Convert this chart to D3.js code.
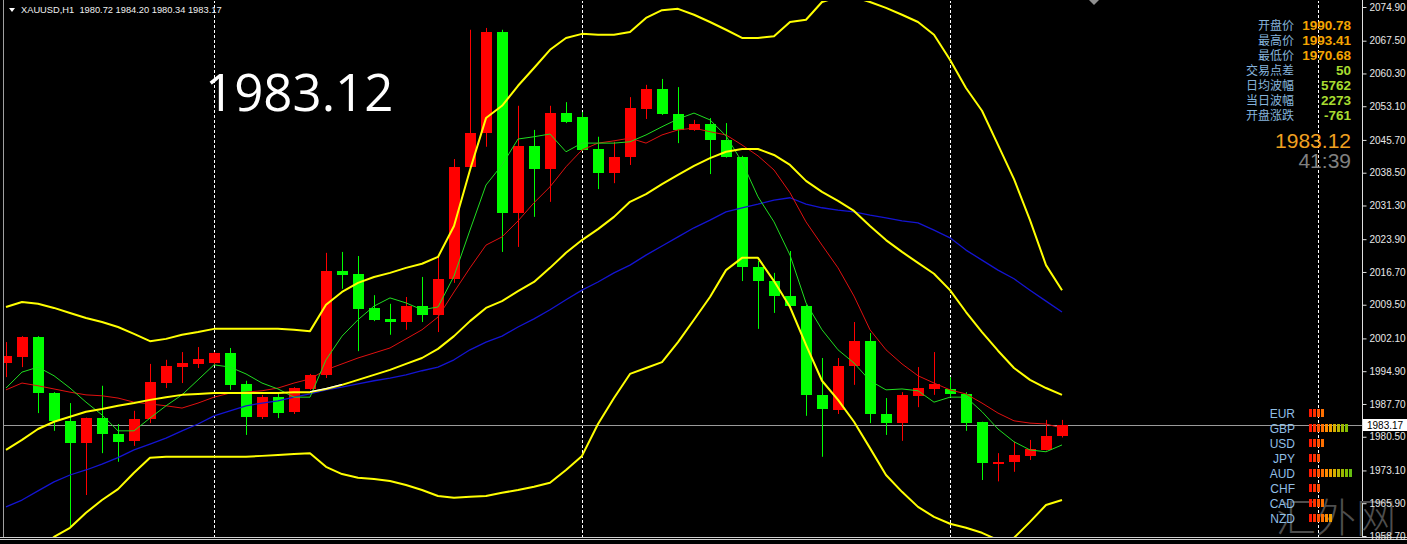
<!doctype html>
<html lang="en">
<head>
<meta charset="utf-8">
<script src="https://d3js.org/d3.v7.min.js"></script>
<style>
  body { margin: 0; background: #000; }
  svg { display: block; }
</style>
</head>
<body>
<svg id="chart" width="1407" height="544"></svg>
<script>
// XAUUSD H1, bar 0 = oldest bar on screen, bar 66 = current bar
var open  = [1996.7,1998.0,2002.4,1990.1,1984.0,1979.1,1984.6,1981.1,1979.6,1984.4,1992.3,1995.8,1996.5,1996.7,1998.9,1992.1,1984.9,1989.2,1985.9,1991.0,
             1994.1,2016.9,2016.3,2008.8,2006.4,2005.7,2009.2,2007.3,2015.2,2039.8,2047.2,2069.4,2029.7,2044.4,2039.3,2051.6,2050.7,2043.7,2038.4,2041.9,
             2052.6,2056.9,2051.5,2047.9,2049.2,2045.7,2042.0,2017.8,2014.8,2011.4,2009.2,1989.7,1986.5,1996.1,2001.5,1985.5,1983.5,1989.5,1991.0,1991.0,
             1989.9,1983.7,1974.5,1974.9,1976.3,1977.7,1980.72];
var high  = [2001.3,2002.6,2002.6,1990.3,1987.9,1984.7,1991.7,1983.3,1986.2,1996.5,1997.4,1999.1,2000.2,1999.1,2000.0,1992.8,1989.7,1990.1,1991.4,1994.3,
             2020.9,2021.1,2020.2,2011.6,2009.7,2011.2,2015.6,2020.0,2041.5,2069.9,2070.3,2069.9,2053.2,2047.9,2053.2,2054.0,2051.8,2046.4,2045.3,2055.1,
             2057.8,2059.1,2057.3,2050.1,2050.5,2049.4,2042.2,2019.1,2016.5,2021.3,2009.5,1997.8,1997.8,2005.7,2003.3,1989.0,1990.3,1995.8,1999.1,1993.6,
             1990.3,1983.8,1976.9,1979.4,1979.8,1984.2,1984.20];
var low   = [1993.6,1995.8,1985.7,1981.8,1960.9,1967.7,1976.9,1975.0,1978.5,1983.5,1991.2,1992.3,1995.6,1996.3,1990.8,1980.9,1984.4,1984.6,1985.5,1990.8,
             1993.4,2013.0,1999.3,2005.9,2002.9,2004.0,2005.7,2003.5,2014.3,2039.5,2044.2,2021.1,2022.2,2028.8,2032.1,2049.4,2043.3,2034.9,2036.2,2040.2,
             2050.3,2051.2,2045.0,2047.7,2038.2,2041.8,2014.7,2004.2,2007.7,2009.0,1985.1,1976.1,1985.5,1991.9,1983.5,1980.9,1979.6,1987.0,1989.7,1989.2,
             1981.8,1971.0,1970.7,1972.8,1975.4,1977.5,1980.34];
var close = [1998.3,2002.4,1990.1,1984.0,1979.1,1984.6,1981.1,1979.4,1984.4,1992.5,1996.1,1996.7,1997.6,1998.9,1991.9,1984.9,1989.2,1985.7,1991.2,1994.1,
             2016.9,2016.0,2008.6,2006.2,2005.7,2009.2,2007.3,2015.2,2039.8,2047.2,2069.4,2029.7,2044.4,2039.3,2051.6,2049.6,2043.5,2038.4,2042.0,2052.7,
             2056.9,2051.4,2047.9,2049.2,2045.7,2042.0,2017.8,2014.7,2011.4,2009.2,1989.7,1986.6,1996.1,2001.5,1985.5,1983.5,1989.7,1991.2,1992.1,1989.9,
             1983.5,1974.7,1975.0,1976.5,1977.8,1980.7,1983.17];

// Bollinger bands (yellow)
var bandUpper = [2009.0,2010.1,2009.7,2008.8,2007.7,2006.6,2005.7,2004.6,2003.1,2001.5,2002.0,2002.9,2003.5,2004.2,2004.2,2004.2,2004.2,2004.2,2004.0,2003.7,
                 2009.5,2012.3,2014.3,2015.6,2016.5,2017.6,2018.5,2020.0,2026.8,2039.1,2050.5,2053.2,2057.6,2061.5,2065.5,2068.1,2069.0,2068.8,2068.8,2069.4,
                 2072.5,2074.2,2074.5,2073.2,2071.6,2069.9,2068.1,2068.1,2068.5,2071.6,2072.1,2076.0,2077.1,2077.1,2076.0,2074.7,2073.2,2071.6,2068.8,2063.3,
                 2057.1,2052.1,2044.6,2037.1,2028.1,2018.2,2012.7];
var bandMid   = [1977.6,1979.8,1982.2,1983.8,1984.9,1986.0,1986.6,1987.3,1987.9,1988.6,1989.2,1989.7,1989.9,1990.1,1990.1,1990.1,1990.1,1990.1,1990.3,1990.3,
                 1991.0,1991.9,1993.0,1994.1,1995.2,1996.5,1997.8,1999.8,2002.6,2005.9,2008.8,2010.3,2012.5,2014.5,2017.6,2020.9,2023.7,2026.1,2028.8,2032.1,
                 2033.8,2036.0,2038.0,2040.0,2041.7,2043.1,2043.7,2043.7,2042.4,2040.2,2036.7,2034.3,2032.3,2030.1,2026.8,2023.7,2021.1,2018.7,2016.3,2012.7,
                 2007.9,2003.5,1999.4,1995.6,1993.0,1991.2,1989.7];
var bandLower = [1951.3,1953.4,1955.6,1958.5,1960.5,1963.8,1966.6,1969.0,1972.6,1975.9,1976.1,1976.1,1976.1,1976.1,1976.1,1976.1,1976.3,1976.5,1976.7,1976.9,
                 1973.9,1972.3,1971.5,1971.2,1970.8,1969.9,1968.8,1967.5,1967.1,1967.3,1967.5,1968.2,1968.8,1969.5,1970.4,1973.2,1976.3,1983.3,1989.0,1994.3,
                 1995.6,1996.9,2001.3,2006.2,2011.2,2017.1,2019.8,2019.8,2014.7,2009.0,2000.7,1992.8,1988.6,1983.8,1978.0,1972.1,1968.4,1965.1,1962.9,1961.4,
                 1960.5,1959.4,1957.8,1958.3,1961.8,1965.5,1966.6];

// moving averages
var maFast = [1991.2,1994.7,1995.8,1993.9,1991.2,1988.1,1985.3,1981.8,1981.8,1984.6,1987.3,1989.7,1993.0,1996.3,1995.8,1994.3,1992.3,1991.0,1989.2,1989.2,
              1997.4,2002.6,2006.2,2009.2,2011.0,2009.9,2008.4,2009.0,2015.8,2025.9,2035.8,2040.2,2045.9,2046.4,2047.0,2043.1,2045.0,2045.0,2045.0,2045.3,
              2046.8,2048.6,2050.3,2051.6,2050.1,2046.6,2040.9,2033.2,2027.7,2020.4,2009.9,2004.0,1999.6,1996.7,1992.8,1990.8,1991.0,1990.6,1988.1,1989.2,
              1989.2,1986.0,1982.2,1979.4,1977.6,1977.2,1978.7];
var maMid  = [1990.8,1992.3,1991.7,1991.0,1990.3,1989.7,1989.5,1989.0,1988.1,1987.7,1987.3,1986.8,1987.9,1989.2,1990.1,1990.3,1990.6,1991.2,1992.3,1993.2,
              1995.2,1996.5,1997.8,1998.9,2000.0,2002.0,2004.0,2006.8,2012.3,2017.6,2022.6,2024.4,2027.9,2031.9,2035.4,2039.8,2043.5,2045.0,2045.5,2046.1,
              2045.0,2046.8,2047.9,2048.3,2047.5,2046.8,2044.6,2042.2,2039.1,2034.1,2027.7,2022.6,2017.6,2011.4,2004.0,1999.6,1996.5,1993.9,1992.3,1990.8,
              1989.9,1987.9,1985.7,1984.0,1983.5,1983.3,1982.4];
var maSlow = [1965.1,1966.6,1968.6,1970.6,1972.1,1973.2,1974.5,1975.9,1977.6,1978.9,1980.2,1981.8,1983.3,1985.1,1986.2,1987.3,1987.9,1988.4,1989.2,1989.9,
              1990.8,1991.4,1992.1,1992.8,1993.4,1994.1,1995.0,1995.8,1997.4,1999.6,2001.3,2002.6,2004.6,2006.4,2008.4,2010.6,2012.7,2014.5,2016.5,2018.2,
              2020.4,2022.4,2024.4,2026.4,2028.1,2029.9,2030.8,2031.6,2032.5,2033.0,2031.6,2030.8,2030.3,2029.9,2029.2,2028.6,2027.9,2027.5,2025.9,2024.2,
              2021.5,2019.3,2017.1,2015.2,2012.7,2010.3,2007.9];
// short white line showing on top of the middle band, starting at bar 19
var whiteStart = 19;
var whiteLine = [1990.4, 1991.1, 1992.0];

var priceTicks = [2074.90,2067.50,2060.30,2053.10,2045.70,2038.50,2031.30,2023.90,2016.70,2009.50,2002.10,1994.90,1987.70,1980.50,1973.10,1965.90,1958.70];
var gridBars = [13, 36, 59, 82];
var shiftBar = 68;
var lastPrice = 1983.17;

var headerText = "XAUUSD,H1  1980.72 1984.20 1980.34 1983.17";
var bigPrice = "1983.12";
var infoLabels = ["开盘价","最高价","最低价","交易点差","日均波幅","当日波幅","开盘涨跌"];
var infoValues = ["1990.78","1993.41","1970.68","50","5762","2273","-761"];
var clockText = "41:39";
var currencies = ["EUR","GBP","USD","JPY","AUD","CHF","CAD","NZD"];
var strength = [4, 10, 4, 3, 11, 3, 4, 6];
var strengthColors = ["#ff1800","#ff3000","#ff5000","#ff7000","#ff8c00","#f0a000","#d6ae00","#b8b400","#9cb800","#80bc00","#66be10"];

var svg = d3.select('#chart');
var W = 1407, H = 544, axisX = 1362, bottomY = 537;

var x = d3.scaleLinear().domain([0, 82]).range([6, 1318]);
var y = d3.scaleLinear().domain([1958.7, 2074.9]).range([536, 7]);

svg.append('rect').attr('width', W).attr('height', H).attr('fill', '#000');

svg.append('defs').append('clipPath').attr('id', 'plot')
  .append('rect').attr('x', 3).attr('y', 1).attr('width', axisX - 3).attr('height', bottomY - 1);

var plot = svg.append('g').attr('clip-path', 'url(#plot)');

// vertical grid
plot.selectAll('line.grid').data(gridBars).enter().append('line')
  .attr('class', 'grid')
  .attr('x1', function(d){ return Math.round(x(d)) + 0.5; })
  .attr('x2', function(d){ return Math.round(x(d)) + 0.5; })
  .attr('y1', 0).attr('y2', bottomY)
  .style('stroke', '#fff').style('stroke-width', 1).style('stroke-dasharray', '3,2');

// current price line
plot.append('line')
  .attr('x1', 0).attr('x2', axisX)
  .attr('y1', Math.round(y(lastPrice)) + 0.5).attr('y2', Math.round(y(lastPrice)) + 0.5)
  .style('stroke', '#9a9a9a').style('stroke-width', 1);

// candles
var candles = plot.selectAll('g.candle').data(open).enter().append('g').attr('class', 'candle');
function col(i){ return close[i] >= open[i] ? '#ff0000' : '#00ff00'; }
candles.append('line')
  .attr('x1', function(d,i){ return Math.round(x(i)) + 0.5; })
  .attr('x2', function(d,i){ return Math.round(x(i)) + 0.5; })
  .attr('y1', function(d,i){ return y(high[i]); })
  .attr('y2', function(d,i){ return y(low[i]); })
  .style('stroke', function(d,i){ return col(i); })
  .style('stroke-width', 1);
candles.append('rect')
  .attr('x', function(d,i){ return Math.round(x(i)) - 5; })
  .attr('width', 11)
  .attr('y', function(d,i){ return Math.round(Math.min(y(open[i]), y(close[i]))); })
  .attr('height', function(d,i){ return Math.max(2, Math.round(Math.abs(y(open[i]) - y(close[i])))); })
  .attr('fill', function(d,i){ return col(i); })
  .attr('shape-rendering', 'crispEdges');

// indicator lines
function drawLine(values, start, color, width){
  var line = d3.line()
    .x(function(d,i){ return x(i + start); })
    .y(function(d){ return y(d); });
  plot.append('path').datum(values)
    .attr('d', line)
    .attr('fill', 'none')
    .style('stroke', color)
    .style('stroke-width', width)
    .style('stroke-linejoin', 'round');
}
drawLine(maSlow, 0, '#1414d2', 1.3);
drawLine(maMid, 0, '#e01010', 1);
drawLine(maFast, 0, '#20dd20', 1);
drawLine(bandUpper, 0, '#ffff00', 2);
drawLine(bandMid, 0, '#ffff00', 2);
drawLine(bandLower, 0, '#ffff00', 2);
drawLine(whiteLine, whiteStart, '#ffffff', 1);

// frame
svg.append('line').attr('x1', 3.5).attr('x2', 3.5).attr('y1', 0).attr('y2', bottomY)
  .style('stroke', '#a0a0a0');
svg.append('line').attr('x1', 0).attr('x2', W).attr('y1', bottomY + 0.5).attr('y2', bottomY + 0.5)
  .style('stroke', '#d0d0d0');
svg.append('line').attr('x1', 0).attr('x2', W).attr('y1', bottomY + 2.5).attr('y2', bottomY + 2.5)
  .style('stroke', '#d0d0d0');
svg.append('line').attr('x1', axisX + 0.5).attr('x2', axisX + 0.5).attr('y1', 0).attr('y2', bottomY)
  .style('stroke', '#e0e0e0');

// watermark (drawn under the panels)
svg.append('text').attr('x', 1276).attr('y', 532).text('汇外网')
  .style('fill', '#4e4e4e').style('font-family', '"Noto Sans CJK SC", sans-serif').style('font-size', '40px')
  .style('font-weight', '300');

// price axis
var axis = d3.axisRight(y).tickValues(priceTicks).tickSize(4).tickSizeOuter(0).tickPadding(3)
  .tickFormat(d3.format('.2f'));
var ag = svg.append('g').attr('transform', 'translate(' + (axisX + 0.5) + ',0)').call(axis);
ag.select('.domain').remove();
ag.selectAll('line').style('stroke', '#e0e0e0');
ag.selectAll('text').style('fill', '#e8e8e8').style('font-family', '"Liberation Sans", Arial, sans-serif')
  .style('font-size', '10px');

// current price tag
var tagY = Math.round(y(lastPrice));
svg.append('rect').attr('x', axisX + 1).attr('y', tagY - 6).attr('width', W - axisX - 1).attr('height', 12)
  .attr('fill', '#fff');
svg.append('text').attr('x', axisX + 5).attr('y', tagY + 4).text(d3.format('.2f')(lastPrice))
  .style('fill', '#000').style('font-family', '"Liberation Sans", Arial, sans-serif').style('font-size', '10px');

// shift marker
svg.append('path')
  .attr('d', 'M' + (x(shiftBar) - 5) + ',0 L' + (x(shiftBar) + 5) + ',0 L' + x(shiftBar) + ',5 Z')
  .attr('fill', '#909090');

// header
svg.append('path').attr('d', 'M9,8 L15,8 L12,12 Z').attr('fill', '#fff');
svg.append('text').attr('x', 21).attr('y', 13).text(headerText)
  .style('fill', '#f0f0f0').style('font-family', '"Liberation Sans", Arial, sans-serif').style('font-size', '9.3px')
  .attr('xml:space', 'preserve').style('white-space', 'pre');

// big price
svg.append('text').attr('x', 205).attr('y', 111).text(bigPrice)
  .style('fill', '#fff').style('font-family', '"Open Sans", sans-serif').style('font-size', '51px');

// info panel
var info = svg.append('g');
info.selectAll('text.lab').data(infoLabels).enter().append('text')
  .attr('class', 'lab')
  .attr('x', 1294).attr('y', function(d,i){ return 29.5 + i * 15; })
  .attr('text-anchor', 'end')
  .text(function(d){ return d; })
  .style('fill', '#86b4dc').style('font-family', '"Noto Sans CJK SC", sans-serif').style('font-size', '12px');
info.selectAll('text.val').data(infoValues).enter().append('text')
  .attr('class', 'val')
  .attr('x', 1351).attr('y', function(d,i){ return 29.5 + i * 15; })
  .attr('text-anchor', 'end')
  .text(function(d){ return d; })
  .style('fill', function(d,i){ return i < 3 ? '#f4a400' : '#a8dc30'; })
  .style('font-weight', 'bold')
  .style('font-family', '"Liberation Sans", Arial, sans-serif').style('font-size', '13.5px');
info.append('text').attr('x', 1351).attr('y', 148).attr('text-anchor', 'end').text(bigPrice)
  .style('fill', '#f0a020').style('font-family', '"Liberation Sans", Arial, sans-serif').style('font-size', '21px');
info.append('text').attr('x', 1351).attr('y', 168).attr('text-anchor', 'end').text(clockText)
  .style('fill', '#808080').style('font-family', '"Liberation Sans", Arial, sans-serif').style('font-size', '21px');

// currency strength panel
var cur = svg.append('g');
currencies.forEach(function(c, k){
  var cy = 413 + k * 15;
  cur.append('text').attr('x', 1295).attr('y', cy + 4.5).attr('text-anchor', 'end').text(c)
    .style('fill', '#90bee4').style('font-family', '"Liberation Sans", Arial, sans-serif').style('font-size', '12px');
  cur.selectAll('rect.s' + k).data(d3.range(strength[k])).enter().append('rect')
    .attr('x', function(j){ return 1309 + j * 4; })
    .attr('y', cy - 4).attr('width', 3).attr('height', 8)
    .attr('fill', function(j){ return strengthColors[j]; })
    .attr('shape-rendering', 'crispEdges');
});
</script>
</body>
</html>
